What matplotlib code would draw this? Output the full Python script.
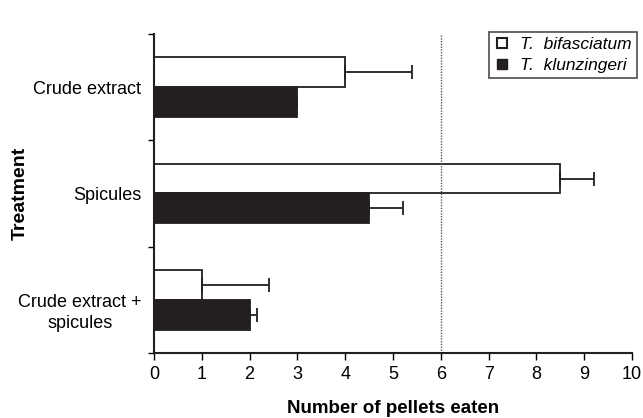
import numpy as np
import matplotlib
matplotlib.use("Agg")
import matplotlib.pyplot as plt
from matplotlib.lines import Line2D

plt.rcParams['font.family'] = ['Liberation Sans', 'DejaVu Sans']

treatments = ['Crude extract', 'Spicules', 'Crude extract +\nspicules']
bifasciatum = [4.0, 8.5, 1.0]
bifasciatum_err = [1.4, 0.7, 1.4]
klunzingeri = [3.0, 4.5, 2.0]
klunzingeri_err = [0.0, 0.7, 0.15]
threshold = 6

fig = plt.figure(figsize=(6.43, 4.18), dpi=100)
ax = fig.add_axes([0.2395, 0.1555, 0.7435, 0.7632])

y = np.arange(len(treatments)) + 0.5
h = 0.28
dark = '#231f20'

ax.barh(y - h/2, bifasciatum, height=h, color='white', edgecolor=dark, linewidth=1.3)
ax.barh(y + h/2, klunzingeri, height=h, color=dark, edgecolor=dark, linewidth=1.3)
ax.errorbar(bifasciatum, y - h/2, xerr=[np.zeros(3), bifasciatum_err], fmt='none',
            ecolor=dark, elinewidth=1.3, capsize=5, capthick=1.3)
ax.errorbar(klunzingeri, y + h/2, xerr=[np.zeros(3), klunzingeri_err], fmt='none',
            ecolor=dark, elinewidth=1.3, capsize=5, capthick=1.3)

ax.axvline(threshold, color='#555555', linestyle=(0, (1, 1)), linewidth=1)

ax.set_xlim(0, 10)
ax.set_ylim(3, 0)
ax.set_xticks(range(11))
ax.set_yticks([0, 1, 2, 3])
ax.set_yticklabels([])
ax.set_yticks(y + np.array([0, 0, 0.09]), minor=True)
ax.set_yticklabels(treatments, minor=True, fontsize=13, ha='right',
                   multialignment='center', linespacing=1.3)
ax.tick_params(axis='y', which='minor', length=0, pad=9)
ax.tick_params(axis='y', which='major', length=4, width=1, direction='out')
ax.tick_params(axis='x', length=5, width=1, direction='out', labelsize=13, pad=4)

for s in ['top', 'right']:
    ax.spines[s].set_visible(False)
for s in ['left', 'bottom']:
    ax.spines[s].set_linewidth(1.5)
    ax.spines[s].set_color(dark)

ax.set_xlabel('Number of pellets eaten', fontsize=13.5, fontweight='bold')
ax.xaxis.set_label_coords(0.5, -55 / 319)
ax.xaxis.label.set_va('center')
ax.set_ylabel('Treatment', fontsize=14, fontweight='bold')
ax.yaxis.set_label_coords(-134 / 478, 0.5)
ax.yaxis.label.set_va('center')

handles = [
    Line2D([], [], marker='s', linestyle='none', markerfacecolor='white',
           markeredgecolor=dark, markeredgewidth=1.5, markersize=7.5),
    Line2D([], [], marker='s', linestyle='none', markerfacecolor=dark,
           markeredgecolor=dark, markersize=7.5),
]
leg = ax.legend(handles, ['T.  bifasciatum', 'T.  klunzingeri'], loc='upper right',
                bbox_to_anchor=(637 / 643, 1 - 32 / 418), bbox_transform=fig.transFigure,
                prop={'style': 'italic', 'size': 12.5}, frameon=True, fancybox=False,
                handletextpad=0.6, handlelength=0.9, borderpad=0.3, labelspacing=0.3,
                borderaxespad=0)
leg.get_frame().set_edgecolor(dark)
leg.get_frame().set_linewidth(1.2)

fig.savefig('out.png', dpi=100)
